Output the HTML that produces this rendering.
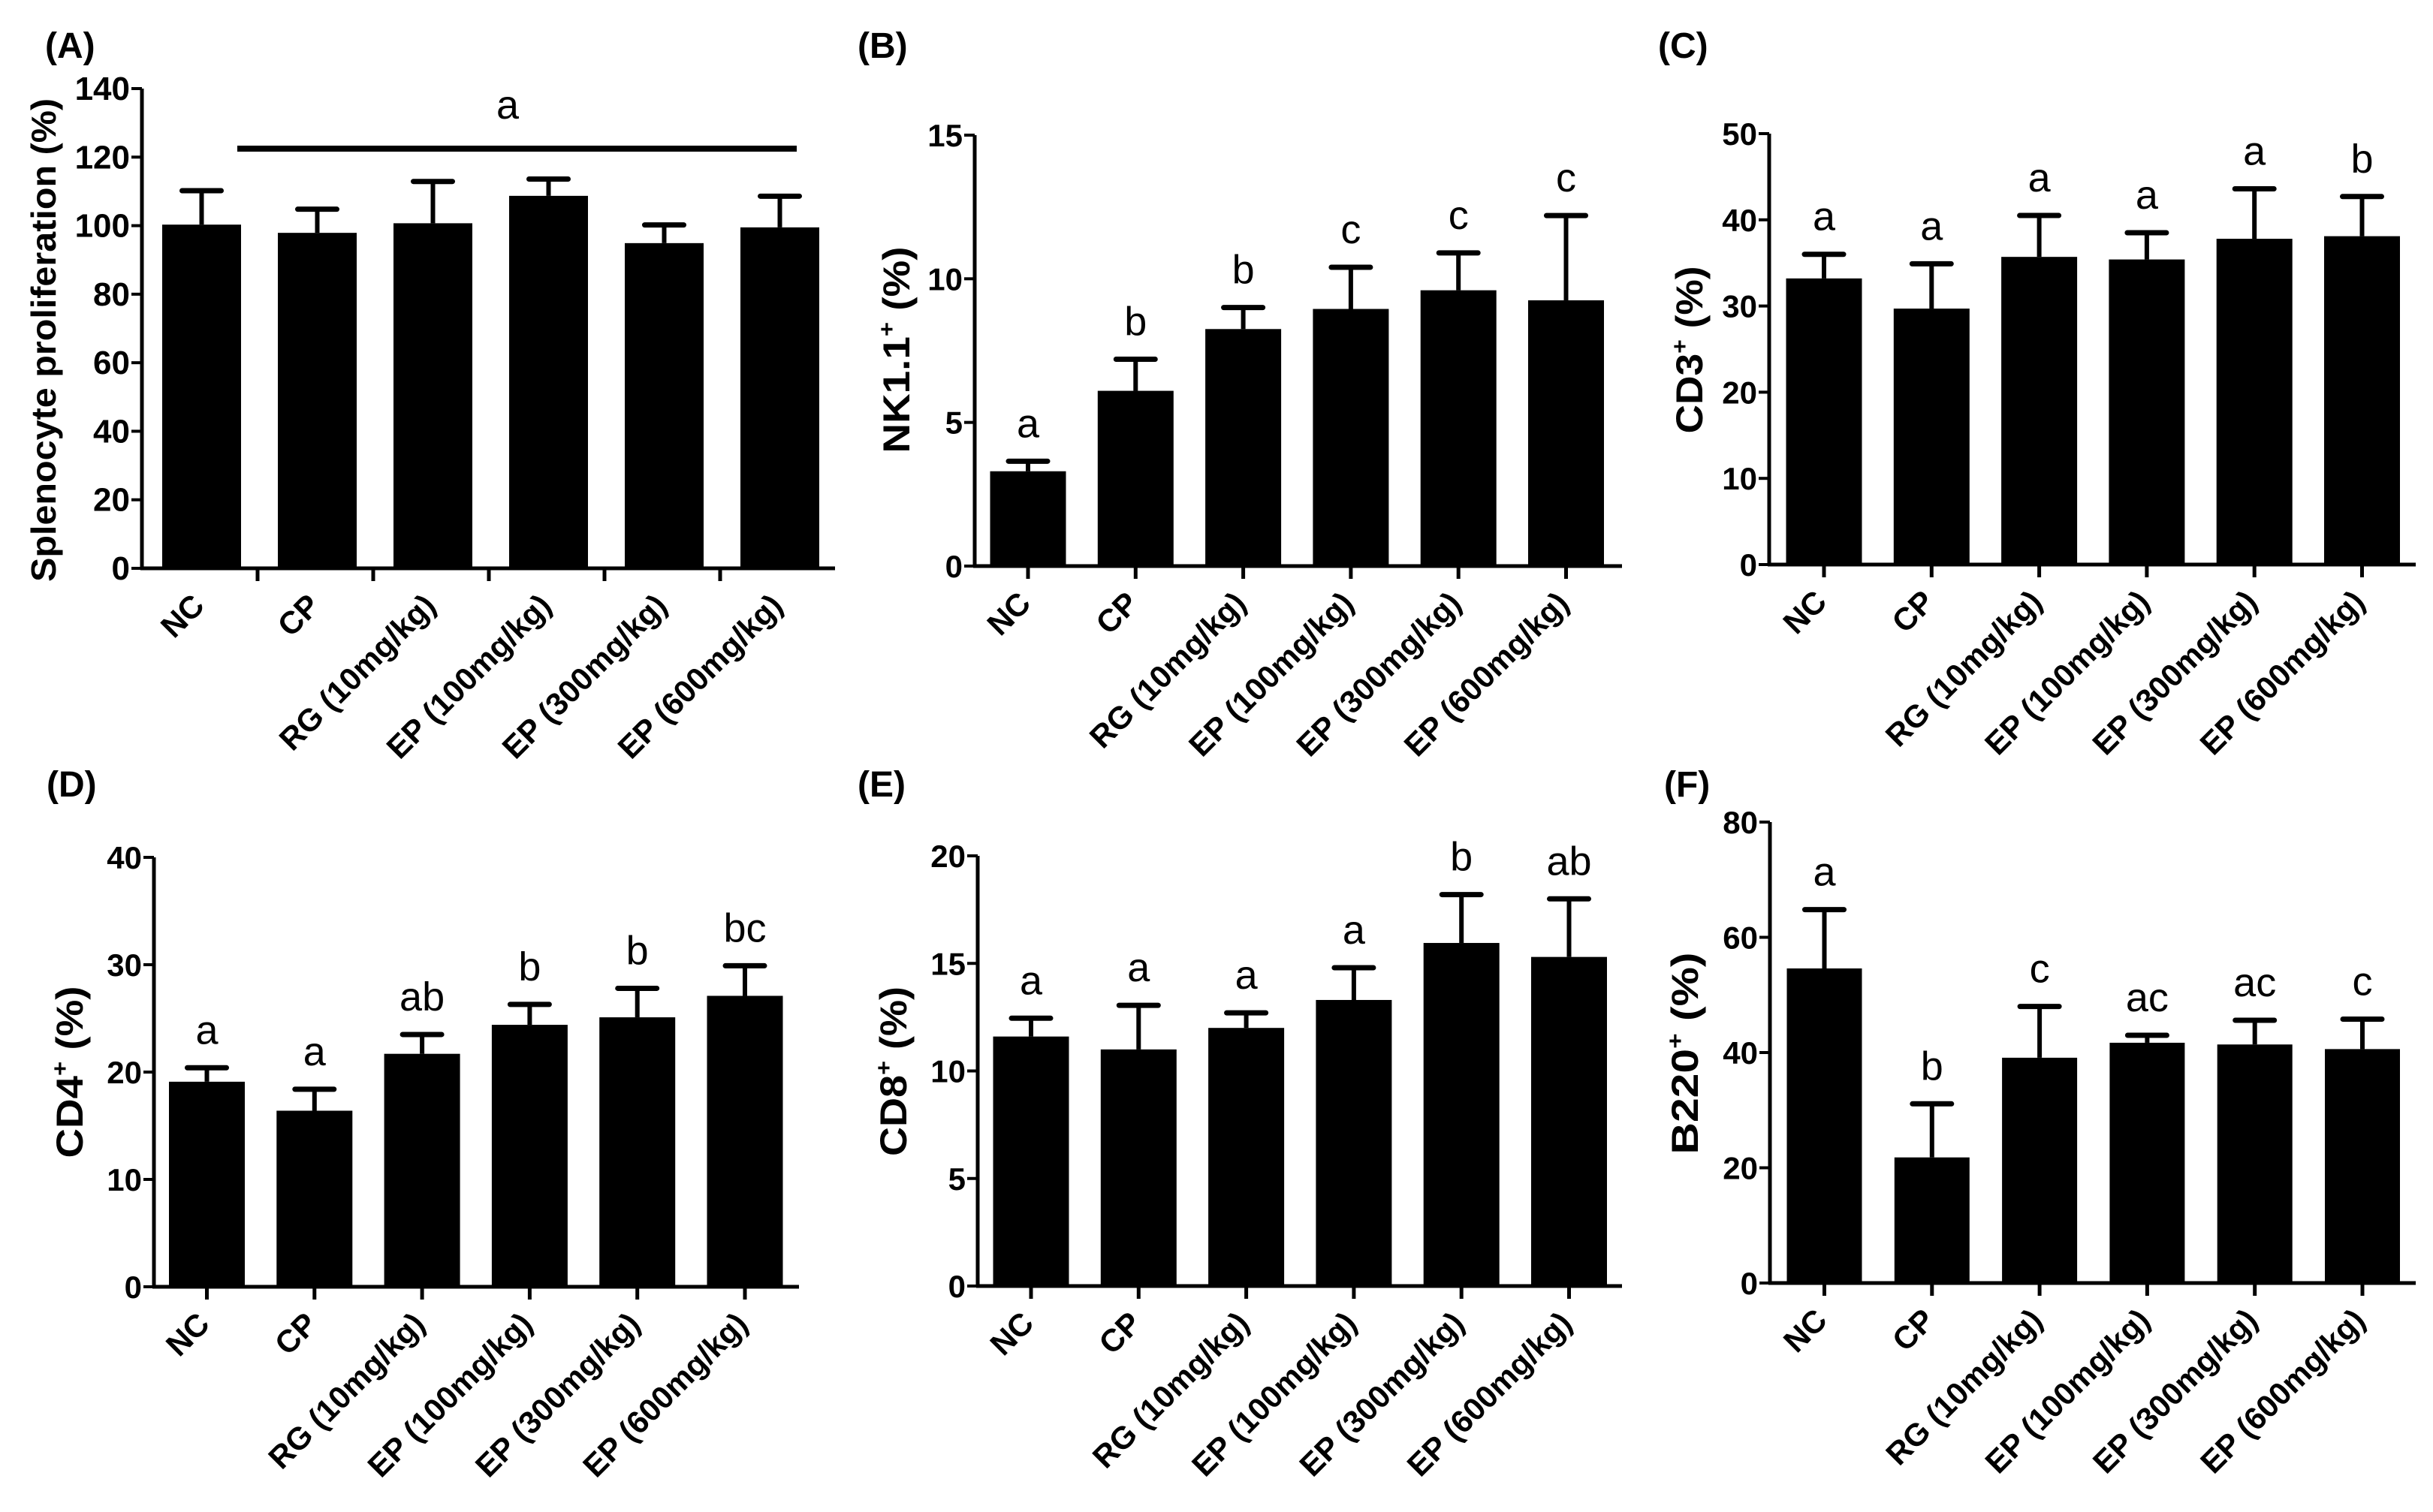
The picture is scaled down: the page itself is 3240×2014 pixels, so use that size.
<!DOCTYPE html>
<html><head><meta charset="utf-8"><style>
html,body{margin:0;padding:0;background:#fff;}
svg{display:block;}
text{font-family:"Liberation Sans",Arial,sans-serif;}
</style></head><body>
<svg id="fig" xmlns="http://www.w3.org/2000/svg" width="3240" height="2014" viewBox="0 0 3240 2014">
<rect x="0" y="0" width="3240" height="2014" fill="#fff"/>
</svg>
<script>
const categories = ["NC","CP","RG (10mg/kg)","EP (100mg/kg)","EP (300mg/kg)","EP (600mg/kg)"];
const meansA = [100.3, 97.9, 100.7, 108.7, 94.9, 99.5];
const errTopA = [110.2, 104.8, 112.9, 113.6, 100.2, 108.6];
const meansB = [3.3, 6.1, 8.25, 8.95, 9.6, 9.25];
const errTopB = [3.65, 7.2, 9.0, 10.4, 10.9, 12.2];
const lettersB = ["a","b","b","c","c","c"];
const meansC = [33.2, 29.7, 35.7, 35.4, 37.8, 38.1];
const errTopC = [36.0, 34.9, 40.5, 38.5, 43.6, 42.7];
const lettersC = ["a","a","a","a","a","b"];
const meansD = [19.1, 16.4, 21.7, 24.4, 25.1, 27.1];
const errTopD = [20.4, 18.4, 23.5, 26.3, 27.8, 29.9];
const lettersD = ["a","a","ab","b","b","bc"];
const meansE = [11.6, 11.0, 12.0, 13.3, 15.95, 15.3];
const errTopE = [12.45, 13.05, 12.7, 14.8, 18.2, 18.0];
const lettersE = ["a","a","a","a","b","ab"];
const meansF = [54.6, 21.8, 39.1, 41.7, 41.4, 40.6];
const errTopF = [64.8, 31.1, 48.0, 43.0, 45.6, 45.8];
const lettersF = ["a","b","c","ac","ac","c"];
const ticksA = [0,20,40,60,80,100,120,140];
const ticksB = [0,5,10,15];
const ticksC = [0,10,20,30,40,50];
const ticksD = [0,10,20,30,40];
const ticksE = [0,5,10,15,20];
const ticksF = [0,20,40,60,80];

const NS="http://www.w3.org/2000/svg";
const svg=document.getElementById('fig');
function mk(tag,attrs,parent){const e=document.createElementNS(NS,tag);for(const k in attrs)e.setAttribute(k,attrs[k]);(parent||svg).appendChild(e);return e;}

const panels=[
 {id:'a',label:'(A)',lx:60,ly:77,title:'Splenocyte proliferation (%)',tx:74,ty:453,tlen:644,tfs:46,x0:189,y0:757,yTop:118,max:140,c0:268.5,sp:154,bw:105,end:1112,boundary:true,means:meansA,err:errTopA,letters:null,ticks:ticksA,tickFs:44},
 {id:'b',label:'(B)',lx:1142,ly:77,title:'NK1.1',sup:'+',tail:' (%)',tx:1211,ty:466,tlen:275,tfs:50,x0:1298,y0:754,yTop:180,max:15,c0:1369,sp:143.3,bw:101,end:2160,means:meansB,err:errTopB,letters:lettersB,ticks:ticksB,tickFs:42},
 {id:'c',label:'(C)',lx:2208,ly:77,title:'CD3',sup:'+',tail:' (%)',tx:2267,ty:466,tlen:223,tfs:50,x0:2356,y0:752,yTop:178,max:50,c0:2429,sp:143.3,bw:101,end:3217,means:meansC,err:errTopC,letters:lettersC,ticks:ticksC,tickFs:42},
 {id:'d',label:'(D)',lx:62,ly:1061,title:'CD4',sup:'+',tail:' (%)',tx:110,ty:1428,tlen:229,tfs:50,x0:205,y0:1714,yTop:1142,max:40,c0:275.5,sp:143.3,bw:101,end:1064,means:meansD,err:errTopD,letters:lettersD,ticks:ticksD,tickFs:42},
 {id:'e',label:'(E)',lx:1142,ly:1061,title:'CD8',sup:'+',tail:' (%)',tx:1207,ty:1427,tlen:226,tfs:50,x0:1302,y0:1713,yTop:1140,max:20,c0:1373,sp:143.3,bw:101,end:2160,means:meansE,err:errTopE,letters:lettersE,ticks:ticksE,tickFs:42},
 {id:'f',label:'(F)',lx:2216,ly:1061,title:'B220',sup:'+',tail:' (%)',tx:2261,ty:1403,tlen:269,tfs:50,x0:2357,y0:1709,yTop:1095,max:80,c0:2429.5,sp:143.3,bw:100,end:3217,means:meansF,err:errTopF,letters:lettersF,ticks:ticksF,tickFs:42}
];

panels.forEach(p=>{
 const g=mk('g',{});
 
 
 const y=v=>p.y0-(v/p.max)*(p.y0-p.yTop);
 const cx=i=>p.c0+i*p.sp;
 const lab=mk('text',{x:p.lx,y:p.ly,'font-size':48,'font-weight':'bold'},g);
 lab.textContent=p.label;
 
 
 const t=mk('text',{x:0,y:0,'font-size':p.tfs,'font-weight':'bold','text-anchor':'middle',textLength:p.tlen,lengthAdjust:'spacingAndGlyphs',transform:`translate(${p.tx},${p.ty}) rotate(-90)`},g);
 
 
 if(p.sup){
   const s1=mk('tspan',{},t);s1.textContent=p.title;
   const s2=mk('tspan',{dy:-20,'font-size':30},t);s2.textContent=p.sup;
   const s3=mk('tspan',{dy:20},t);s3.textContent=p.tail;
 } else t.textContent=p.title;
 p.means.forEach((m,i)=>{
   const r=mk('rect',{x:cx(i)-p.bw/2,y:y(m),width:p.bw,height:p.y0-y(m),fill:'#000'},g);
   
   
   const e=p.err[i];
   const ln=mk('line',{x1:cx(i),x2:cx(i),y1:y(m),y2:y(e),stroke:'#000','stroke-width':6},g);
   
   
   const cap=mk('line',{x1:cx(i)-26,x2:cx(i)+26,y1:y(e),y2:y(e),stroke:'#000','stroke-width':7,'stroke-linecap':'round'},g);
   
   
   if(p.letters){
     const lt=mk('text',{x:cx(i),y:y(e)-32,'font-size':54,'text-anchor':'middle'},g);
     lt.textContent=p.letters[i];
     
     
   }
   const xl=cx(i)+6, yl=p.y0+52;
   const xt=mk('text',{x:xl,y:yl,'font-size':42,'font-weight':'bold','text-anchor':'end',transform:`rotate(-45 ${xl} ${yl})`},g);
   xt.textContent=categories[i];
   
   
 });
 const ya=mk('line',{x1:p.x0,x2:p.x0,y1:p.yTop,y2:p.y0+2,stroke:'#000','stroke-width':5},g);
 
 
 const xa=mk('line',{x1:p.x0-2,x2:p.end,y1:p.y0,y2:p.y0,stroke:'#000','stroke-width':5},g);
 
 
 p.ticks.forEach(v=>{
   const tk=mk('line',{x1:p.x0-14,x2:p.x0,y1:y(v),y2:y(v),stroke:'#000','stroke-width':4},g);
   
   
   const tl=mk('text',{x:p.x0-16,y:y(v)+15,'font-size':p.tickFs,'font-weight':'bold','text-anchor':'end'},g);
   tl.textContent=String(v);
   
   
 });
 for(let i=0;i<categories.length;i++){
   const tx=p.boundary? p.x0+(i+1)*p.sp : cx(i);
   if(p.boundary && i===categories.length-1) break;
   const tk=mk('line',{x1:tx,x2:tx,y1:p.y0,y2:p.y0+17,stroke:'#000','stroke-width':5},g);
   
   
 }
 if(p.id==='a'){
   const gl=mk('line',{x1:316,x2:1061,y1:198,y2:198,stroke:'#000','stroke-width':8},g);
   
   
   const ga=mk('text',{x:676,y:158,'font-size':54,'text-anchor':'middle'},g);
   ga.textContent='a';
   
   
 }
});
</script>
</body></html>
